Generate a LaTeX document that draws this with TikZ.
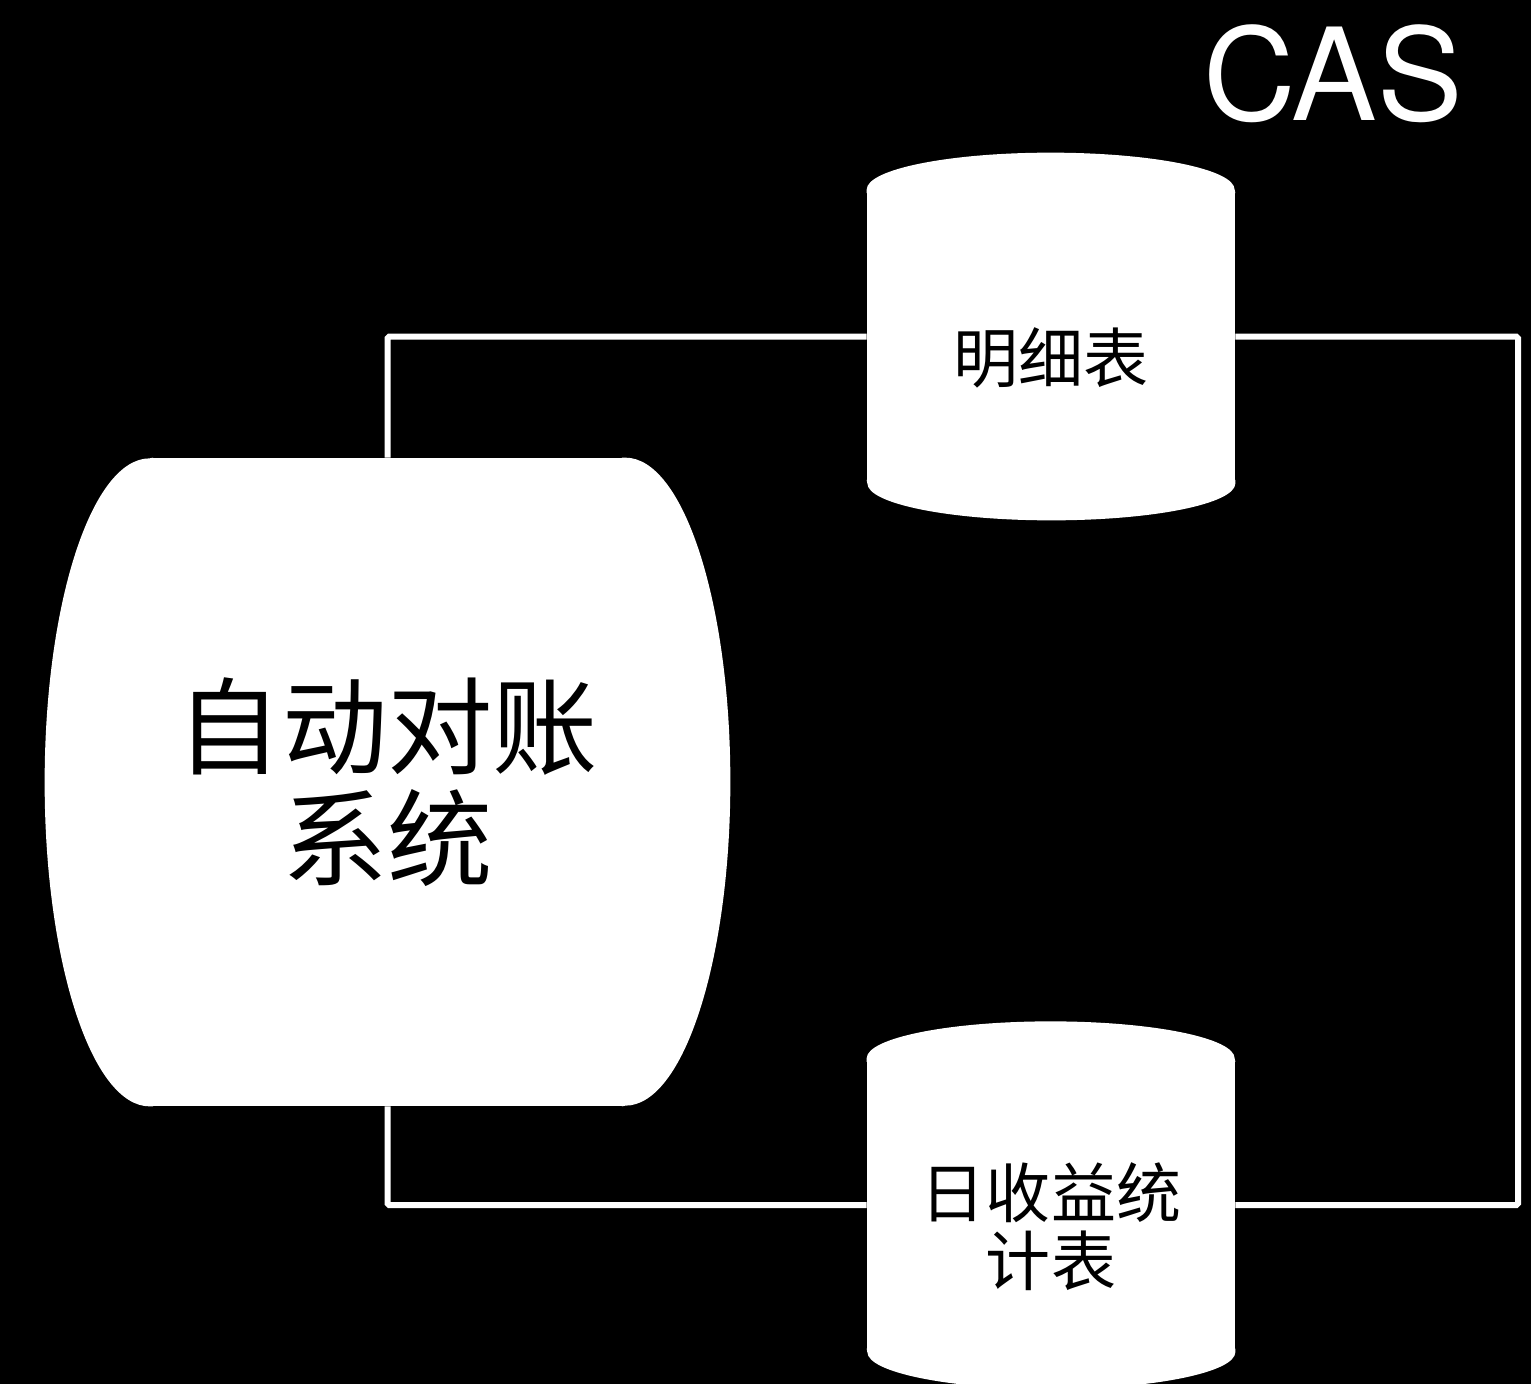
\documentclass[tikz,border=0pt]{standalone}
\usepackage{fontspec}
\setmainfont{Noto Sans CJK SC}
\newfontfamily\casfont{TeX Gyre Heros}
\usetikzlibrary{positioning}

\begin{document}
\begin{tikzpicture}[
  drum/.style={rectangle, fill=white, inner sep=0pt, align=center, text=black,
    minimum width=9.5cm, minimum height=12.96cm, font=\fontsize{60}{64}\selectfont},
  tablebox/.style={rectangle, fill=white, inner sep=0pt, minimum width=7.36cm, minimum height=5.86cm},
  tabletext/.style={align=center, text=black, inner sep=0pt, font=\fontsize{37}{39}\selectfont},
  link/.style={draw=white, line width=0.12cm, rounded corners=1pt}
]

% Background
\fill[black] (0,0) rectangle (30.62,-27.68);
\useasboundingbox (0,0) rectangle (30.62,-27.68);

% System
\node[drum] (recon) at (7.75,-15.64) {自动对账\\系统};
\fill[white] (recon.north east) arc[start angle=90, end angle=-90, x radius=2.1cm, y radius=6.48cm]
  -- ([xshift=-2pt]recon.south east) -- ([xshift=-2pt]recon.north east) -- cycle;
\fill[white] (recon.south west) arc[start angle=-90, end angle=-270, x radius=2.1cm, y radius=6.48cm]
  -- ([xshift=2pt]recon.north west) -- ([xshift=2pt]recon.south west) -- cycle;

% Tables
\node[tablebox] (detail) at (21.02,-6.73) {};
\node[tablebox, below=11.5cm of detail] (income) {};
\foreach \t in {detail, income} {
  \fill[white] (\t.north west) arc[start angle=180, end angle=0, x radius=3.68cm, y radius=0.74cm]
    -- ([yshift=-2pt]\t.north east) -- ([yshift=-2pt]\t.north west) -- cycle;
  \fill[white] (\t.south east) arc[start angle=0, end angle=-180, x radius=3.68cm, y radius=0.74cm]
    -- ([yshift=2pt]\t.south west) -- ([yshift=2pt]\t.south east) -- cycle;
}
\node[tabletext] (detailtext) at ([yshift=-0.43cm]detail.center) {明细表};
\node[tabletext] (incometext) at ([yshift=-0.43cm]income.center) {日收益统\\计表};

% Title
\node[text=white, font=\casfont\fontsize{73}{73}\selectfont, anchor=base, inner sep=0pt] (cas) at (26.66,-2.4) {CAS};
\coordinate (rim) at (30.36,-15);

% Links
\draw[link] (recon.north) |- (detail.west);
\draw[link] (detail.east) -| (rim) |- (income.east);
\draw[link] (income.west) -| (recon.south);

\end{tikzpicture}
\end{document}
